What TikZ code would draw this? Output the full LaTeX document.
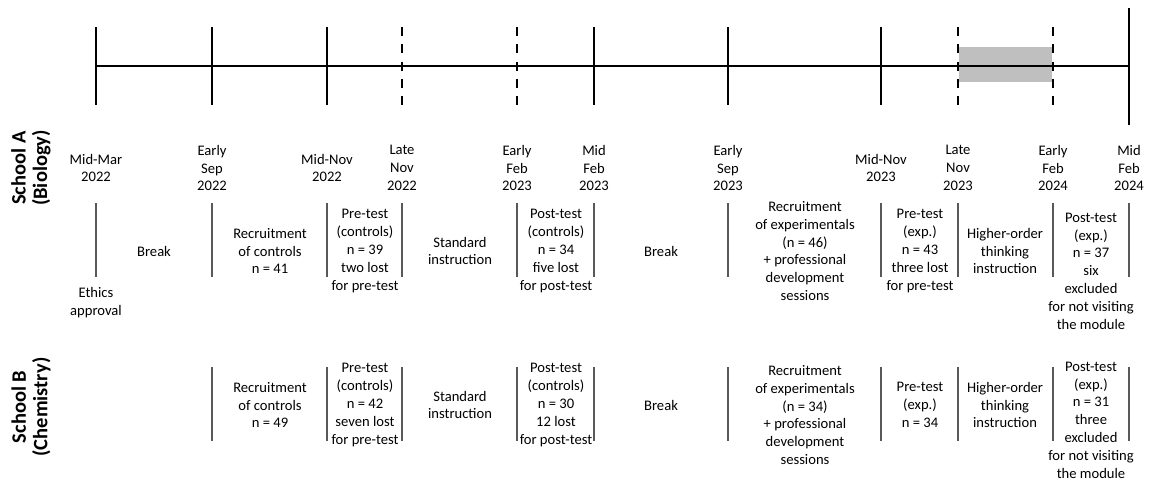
\documentclass[tikz,border=0pt]{standalone}
\usepackage{fontspec}
\setmainfont{Carlito}
\usepackage{tikz}
\definecolor{sep-gray}{rgb}{0.35, 0.35, 0.35}
\definecolor{shade-gray}{rgb}{0.75, 0.75, 0.75}

\begin{document}
\begin{tikzpicture}[x=1pt, y=-1pt,
		datelabel/.style={align=center, inner sep=0pt, font=\fontsize{14.6}{17.8}\selectfont},
		cell/.style={align=center, inner sep=0pt, font=\fontsize{14.6}{17.8}\selectfont},
		school/.style={align=center, inner sep=0pt, rotate=90, font=\bfseries\fontsize{20.5}{21.5}\selectfont},
		tick/.style={line width=2pt},
		dashtick/.style={line width=2pt, dash pattern=on 9pt off 8.25pt},
		sep/.style={sep-gray, line width=1.5pt}]
		
		\useasboundingbox (0,0) rectangle (1149,483);
		
		% Points on the time line
		\coordinate (mar22) at (96,66);
		\coordinate (sep22) at (212,66);
		\coordinate (nov22) at (327,66);
		\coordinate (lnov22) at (402,66);
		\coordinate (feb23) at (517,66);
		\coordinate (mfeb23) at (594,66);
		\coordinate (sep23) at (728,66);
		\coordinate (nov23) at (881,66);
		\coordinate (lnov23) at (958,66);
		\coordinate (feb24) at (1053,66);
		\coordinate (mfeb24) at (1129,66);
		
		% Draw the shaded intervention period
		\fill[shade-gray] (959,47) rectangle (1052,82);
		
		% Draw the time line and its ticks
		\draw[tick] (mar22) -- (mfeb24);
		\draw[tick] ([yshift=39pt]mar22) -- ([yshift=-39pt]mar22);
		\draw[tick] ([yshift=39pt]sep22) -- ([yshift=-39pt]sep22);
		\draw[tick] ([yshift=39pt]nov22) -- ([yshift=-39pt]nov22);
		\draw[dashtick] ([yshift=39pt]lnov22) -- ([yshift=-39pt]lnov22);
		\draw[dashtick] ([yshift=39pt]feb23) -- ([yshift=-39pt]feb23);
		\draw[tick] ([yshift=39pt]mfeb23) -- ([yshift=-39pt]mfeb23);
		\draw[tick] ([yshift=39pt]sep23) -- ([yshift=-39pt]sep23);
		\draw[tick] ([yshift=39pt]nov23) -- ([yshift=-39pt]nov23);
		\draw[dashtick] ([yshift=39pt]lnov23) -- ([yshift=-39pt]lnov23);
		\draw[dashtick] ([yshift=39pt]feb24) -- ([yshift=-39pt]feb24);
		\draw[tick] ([yshift=58pt]mfeb24) -- ([yshift=-59pt]mfeb24);
		
		% Draw the dates
		\node (dmar22) [datelabel] at (96,168) {Mid-Mar\\2022};
		\node (dsep22) [datelabel] at (212,168) {Early\\Sep\\2022};
		\node (dnov22) [datelabel] at (327,168) {Mid-Nov\\2022};
		\node (dlnov22) [datelabel] at (402,168) {Late\\Nov\\2022};
		\node (dfeb23) [datelabel] at (517,168) {Early\\Feb\\2023};
		\node (dmfeb23) [datelabel] at (594,168) {Mid\\Feb\\2023};
		\node (dsep23) [datelabel] at (728,168) {Early\\Sep\\2023};
		\node (dnov23) [datelabel] at (881,168) {Mid-Nov\\2023};
		\node (dlnov23) [datelabel] at (958,168) {Late\\Nov\\2023};
		\node (dfeb24) [datelabel] at (1053,168) {Early\\Feb\\2024};
		\node (dmfeb24) [datelabel] at (1129,168) {Mid\\Feb\\2024};
		
		% Draw the school labels
		\node (schoolA) [school] at (31,168) {School A\\(Biology)};
		\node (schoolB) [school] at (31,407) {School B\\(Chemistry)};
		
		% Draw the separators of school A
		\draw[sep] (96,203) -- (96,277);
		\draw[sep] (212,203) -- (212,277);
		\draw[sep] (327,203) -- (327,277);
		\draw[sep] (402,203) -- (402,277);
		\draw[sep] (517,203) -- (517,277);
		\draw[sep] (594,203) -- (594,277);
		\draw[sep] (728,203) -- (728,277);
		\draw[sep] (881,203) -- (881,277);
		\draw[sep] (958,203) -- (958,277);
		\draw[sep] (1053,203) -- (1053,277);
		\draw[sep] (1129,203) -- (1129,277);
		
		% Draw the phases of school A
		\node (ethics) [cell] at (96,303) {Ethics\\approval};
		\node (breakA1) [cell] at (154,251) {Break};
		\node (recA) [cell] at (270,251) {Recruitment\\of controls\\n = 41};
		\node (preA) [cell] at (365,251) {Pre-test\\(controls)\\n = 39\\two lost\\for pre-test};
		\node (stdA) [cell] at (460,251) {Standard\\instruction};
		\node (postA) [cell] at (556,251) {Post-test\\(controls)\\n = 34\\five lost\\for post-test};
		\node (breakA2) [cell] at (661,251) {Break};
		\node (recexpA) [cell] at (805,251) {Recruitment\\of experimentals\\(n = 46)\\+ professional\\development\\sessions};
		\node (preexpA) [cell] at (920,251) {Pre-test\\(exp.)\\n = 43\\three lost\\for pre-test};
		\node (hotA) [cell] at (1005,251) {Higher-order\\thinking\\instruction};
		\node (postexpA) [cell] at (1091,271) {Post-test\\(exp.)\\n = 37\\six\\excluded\\for not visiting\\the module};
		
		% Draw the separators of school B
		\draw[sep] (212,367) -- (212,441);
		\draw[sep] (327,367) -- (327,441);
		\draw[sep] (402,367) -- (402,441);
		\draw[sep] (517,367) -- (517,441);
		\draw[sep] (594,367) -- (594,441);
		\draw[sep] (728,367) -- (728,441);
		\draw[sep] (881,367) -- (881,441);
		\draw[sep] (958,367) -- (958,441);
		\draw[sep] (1053,367) -- (1053,441);
		\draw[sep] (1129,367) -- (1129,441);
		
		% Draw the phases of school B
		\node (recB) [cell] at (270,405) {Recruitment\\of controls\\n = 49};
		\node (preB) [cell] at (365,405) {Pre-test\\(controls)\\n = 42\\seven lost\\for pre-test};
		\node (stdB) [cell] at (460,405) {Standard\\instruction};
		\node (postB) [cell] at (556,405) {Post-test\\(controls)\\n = 30\\12 lost\\for post-test};
		\node (breakB) [cell] at (661,405) {Break};
		\node (recexpB) [cell] at (805,415) {Recruitment\\of experimentals\\(n = 34)\\+ professional\\development\\sessions};
		\node (preexpB) [cell] at (920,405) {Pre-test\\(exp.)\\n = 34};
		\node (hotB) [cell] at (1005,405) {Higher-order\\thinking\\instruction};
		\node (postexpB) [cell] at (1091,420) {Post-test\\(exp.)\\n = 31\\three\\excluded\\for not visiting\\the module};
		\end{tikzpicture}
\end{document}
